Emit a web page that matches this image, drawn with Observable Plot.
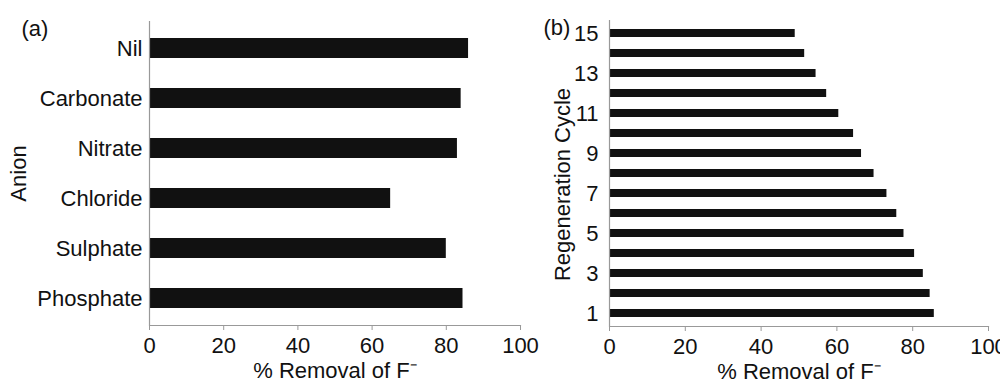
<!DOCTYPE html>
<html>
<head>
<meta charset="utf-8">
<script src="https://cdn.jsdelivr.net/npm/d3@7"></script>
<script src="https://cdn.jsdelivr.net/npm/@observablehq/plot@0.6"></script>
<style>
  html, body { margin: 0; padding: 0; background: #fff; }
  #wrap { position: relative; width: 1000px; height: 384px; overflow: hidden; }
  #a, #b { position: absolute; top: 0; }
  #a { left: 0; }
  #b { left: 540px; }
</style>
</head>
<body>
<div id="wrap"><div id="a"></div><div id="b"></div></div>
<script>
// Panel (a): anion effect
const anions = ["Nil", "Carbonate", "Nitrate", "Chloride", "Sulphate", "Phosphate"];
const anionRemoval = [86, 84, 83, 65, 80, 84.5];

// Panel (b): regeneration cycles
const cycles = [15, 14, 13, 12, 11, 10, 9, 8, 7, 6, 5, 4, 3, 2, 1];
const cycleRemoval = [49, 51.5, 54.5, 57.3, 60.5, 64.4, 66.5, 69.8, 73.2, 75.8, 77.7, 80.5, 82.8, 84.6, 85.7];
const cycleTicks = [15, 13, 11, 9, 7, 5, 3, 1];

const xTicks = [0, 20, 40, 60, 80, 100];
const xTitle = "% Removal of F\u207B";

const font = "Liberation Sans, Arial, sans-serif";
const ink = "#111";
const axisGray = "#999";
const fs = 22;

const dataA = anions.map((a, i) => ({label: a, value: anionRemoval[i]}));
const dataB = cycles.map((c, i) => ({label: c, value: cycleRemoval[i]}));

function panel({data, domain, yTicks, width, marginLeft, marginRight, marginTop, marginBottom, yPad, yTitle, yTitleDx, yTitleDy, tag, tagDx}) {
  return Plot.plot({
    width, height: 384,
    marginLeft, marginRight, marginTop, marginBottom,
    style: {fontFamily: font, fontSize: fs + "px", color: ink, background: "#fff", overflow: "visible"},
    x: {domain: [0, 100], ticks: xTicks},
    y: {domain, paddingInner: 0.6, paddingOuter: 0.3},
    marks: [
      Plot.barX(data, {x: "value", y: "label", fill: ink}),
      Plot.ruleX([0], {stroke: axisGray, strokeWidth: 1.2}),
      Plot.frame({anchor: "bottom", stroke: axisGray, strokeWidth: 1.2}),
      Plot.axisX({ticks: xTicks, tickSize: 5, tickPadding: 7, stroke: axisGray, fill: ink, label: null, fontSize: fs}),
      Plot.axisY({ticks: yTicks, tickSize: 0, tickPadding: yPad, fill: ink, label: null, fontSize: fs}),
      Plot.text([xTitle], {frameAnchor: "bottom", dy: 45, textAnchor: "middle", lineAnchor: "middle", fill: ink, fontSize: fs}),
      Plot.text([yTitle], {frameAnchor: "left", dx: yTitleDx, dy: yTitleDy, rotate: -90, textAnchor: "middle", lineAnchor: "middle", fill: ink, fontSize: fs}),
      Plot.text([tag], {frameAnchor: "top-left", dx: tagDx, dy: 7, textAnchor: "start", lineAnchor: "middle", fill: ink, fontSize: fs})
    ]
  });
}

document.getElementById("a").append(panel({
  data: dataA, domain: anions, yTicks: anions,
  width: 540, marginLeft: 149, marginRight: 20, marginTop: 21, marginBottom: 59,
  yPad: 7, yTitle: "Anion", yTitleDx: -131, yTitleDy: 0, tag: "(a)", tagDx: -128
}));

document.getElementById("b").append(panel({
  data: dataB, domain: cycles, yTicks: cycleTicks,
  width: 460, marginLeft: 69, marginRight: 12, marginTop: 20, marginBottom: 58,
  yPad: 11, yTitle: "Regeneration Cycle", yTitleDx: -47, yTitleDy: 11, tag: "(b)", tagDx: -66
}));
</script>
</body>
</html>
